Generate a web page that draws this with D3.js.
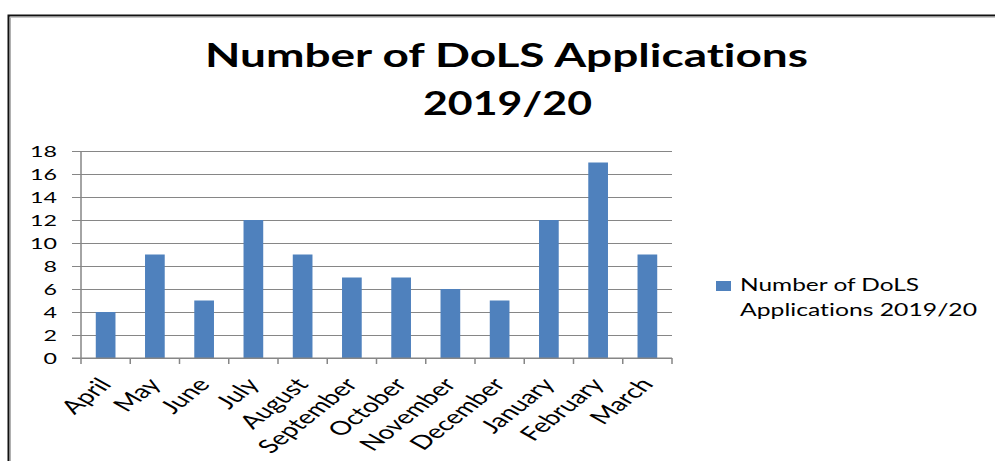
<!DOCTYPE html>
<html>
<head>
<meta charset="utf-8">
<script src="https://cdn.jsdelivr.net/npm/d3@7"></script>
<style>
  html, body { margin: 0; padding: 0; background: #fff; }
  svg { display: block; }
  text { font-family: Lato, "Open Sans", "DejaVu Sans", sans-serif; fill: #000;
         font-variant-ligatures: none; font-feature-settings: "liga" 0; }
</style>
</head>
<body>
<svg id="chart" width="995" height="461"></svg>
<script>
// Monthly DoLS application counts, financial year 2019/20
const months = ["April", "May", "June", "July", "August", "September",
                "October", "November", "December", "January", "February", "March"];
const applications = [4, 9, 5, 12, 9, 7, 7, 6, 5, 12, 17, 9];
const yTicks = [0, 2, 4, 6, 8, 10, 12, 14, 16, 18];
const titleLines = ["Number of DoLS Applications", "2019/20"];
const seriesName = ["Number of DoLS", "Applications 2019/20"];

const W = 995, H = 461;
const SX = 1.5;               // horizontal stretch applied to all text
const barColor = "#4f81bd";
const gridColor = "#868686";

const svg = d3.select("#chart");

// chart frame (left and top edges visible)
svg.append("path")
  .attr("d", `M8.5,${H} V15.5 H${W}`)
  .attr("fill", "none").attr("stroke", "#111").attr("stroke-width", 2);
svg.append("path")
  .attr("d", `M10.5,${H} V17.2 H${W}`)
  .attr("fill", "none").attr("stroke", "#b0b0b0").attr("stroke-width", 1);

// plot area
const plot = { left: 81, right: 672, top: 151, bottom: 358 };

const x = d3.scaleBand()
  .domain(months)
  .range([plot.left, plot.right])
  .paddingInner(0.6)
  .paddingOuter(0.3);

const y = d3.scaleLinear()
  .domain([0, 18])
  .range([plot.bottom, plot.top]);

// stretched text helper: positions in screen px, glyphs widened by SX
function stretchedText(g, str, px, py, opts = {}) {
  const t = g.append("text")
    .attr("transform", `translate(${px},${py}) scale(${SX},1)` + (opts.rotate ? ` rotate(${opts.rotate})` : ""))
    .attr("text-anchor", opts.anchor || "start")
    .style("font-size", (opts.size || 15) + "px")
    .style("font-weight", opts.weight || 400)
    .text(str);
  if (opts.dy) t.attr("dy", opts.dy);
  if (opts.width) t.attr("textLength", opts.width / SX).attr("lengthAdjust", "spacingAndGlyphs");
  return t;
}

// title
const titleG = svg.append("g");
stretchedText(titleG, titleLines[0], 506.5, 67, { anchor: "middle", size: 32, weight: 700, width: 603 });
stretchedText(titleG, titleLines[1], 507.5, 115, { anchor: "middle", size: 32, weight: 700, width: 169 });

// horizontal gridlines with outward tick stubs
const yAxis = d3.axisLeft(y)
  .tickValues(yTicks)
  .tickSize(-(plot.right - plot.left) - 9)
  .tickFormat("");
const yg = svg.append("g")
  .attr("transform", `translate(${plot.left - 9},0)`)
  .call(yAxis);
yg.select(".domain").remove();
yg.selectAll(".tick line")
  .attr("stroke", gridColor).attr("stroke-width", 1);

// y tick labels
const ylab = svg.append("g");
yTicks.forEach(v => {
  stretchedText(ylab, String(v), 57, y(v), { anchor: "end", size: 15.5, dy: "0.36em" });
});

// bars
svg.append("g").selectAll("rect")
  .data(months.map((m, i) => ({ m, v: applications[i] })))
  .join("rect")
  .attr("x", d => x(d.m))
  .attr("width", x.bandwidth())
  .attr("y", d => y(d.v))
  .attr("height", d => y(0) - y(d.v))
  .attr("fill", barColor);

// vertical axis line
svg.append("line")
  .attr("x1", plot.left).attr("x2", plot.left)
  .attr("y1", plot.top).attr("y2", plot.bottom)
  .attr("stroke", gridColor).attr("stroke-width", 1.5);

// horizontal axis with category boundary ticks
const step = x.step();
const bounds = d3.range(months.length + 1).map(i => plot.left + i * step);
svg.append("line")
  .attr("x1", plot.left - 9).attr("x2", plot.right)
  .attr("y1", plot.bottom).attr("y2", plot.bottom)
  .attr("stroke", gridColor).attr("stroke-width", 1.2);
svg.append("g").selectAll("line")
  .data(bounds)
  .join("line")
  .attr("x1", d => d).attr("x2", d => d)
  .attr("y1", plot.bottom).attr("y2", plot.bottom + 6)
  .attr("stroke", gridColor).attr("stroke-width", 1.5);

// rotated category labels
const xlab = svg.append("g");
months.forEach(m => {
  const cx = x(m) + x.bandwidth() / 2;
  stretchedText(xlab, m, cx + 7, 385, { anchor: "end", size: 19, rotate: -50 });
});

// legend
svg.append("rect")
  .attr("x", 716).attr("y", 281)
  .attr("width", 15).attr("height", 10)
  .attr("fill", barColor);
const lg = svg.append("g");
stretchedText(lg, seriesName[0], 740, 291, { size: 16.3 });
stretchedText(lg, seriesName[1], 740, 315.7, { size: 16.3, width: 237 });
</script>
</body>
</html>
